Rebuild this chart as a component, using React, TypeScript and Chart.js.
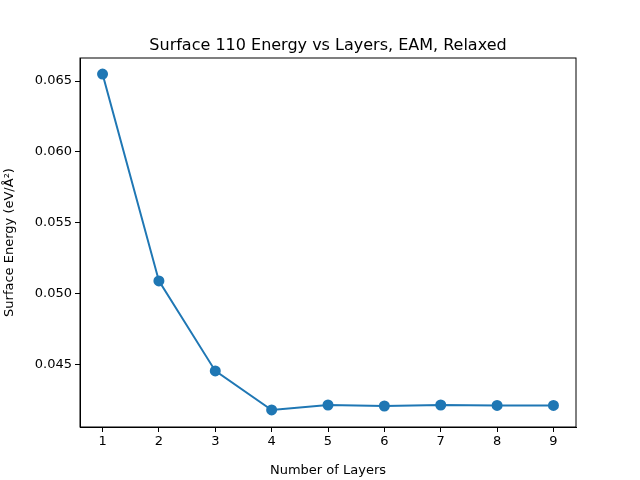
import React, { useEffect, useRef } from "react";
import Chart from "chart.js/auto";

const layers = [1, 2, 3, 4, 5, 6, 7, 8, 9];
const energy = [0.06549, 0.05092, 0.04458, 0.04183, 0.04218, 0.04211, 0.04218, 0.04215, 0.04215];
const xTicks = [1, 2, 3, 4, 5, 6, 7, 8, 9];
const yTicks = [0.045, 0.05, 0.055, 0.06, 0.065];

const font = { family: "DejaVu Sans", size: 13 };

const App = () => {
  const chartRef = useRef<HTMLCanvasElement | null>(null);

  useEffect(() => {
    document.body.style.margin = "0";
    const ctx = chartRef.current!.getContext("2d")!;
    const frame = {
      id: "frame",
      afterDraw(chart: Chart) {
        const { left, right, top, bottom } = chart.chartArea;
        const c = chart.ctx;
        c.save();
        c.strokeStyle = "#000";
        c.lineWidth = 1;
        c.strokeRect(left, top, right - left, bottom - top);
        c.fillStyle = "#000";
        c.font = "16px DejaVu Sans";
        c.textAlign = "center";
        c.textBaseline = "alphabetic";
        c.fillText("Surface 110 Energy vs Layers, EAM, Relaxed", (left + right) / 2, 50);
        c.restore();
      },
    };
    const chart = new Chart(ctx, {
      type: "line",
      data: {
        datasets: [
          {
            data: layers.map((x, i) => ({ x, y: energy[i] })),
            borderColor: "#1f77b4",
            backgroundColor: "#1f77b4",
            borderWidth: 2,
            pointRadius: 4.5,
            pointHoverRadius: 4.5,
          },
        ],
      },
      options: {
        animation: false,
        responsive: false,
        layout: { padding: { top: 58, right: 64 } },
        plugins: { legend: { display: false }, tooltip: { enabled: false } },
        scales: {
          x: {
            type: "linear",
            min: 0.6,
            max: 9.4,
            afterBuildTicks: (s: any) => {
              s.ticks = xTicks.map((v) => ({ value: v }));
            },
            afterFit: (s: any) => {
              s.height = 53;
            },
            grid: { drawOnChartArea: false, tickLength: 5, color: "#000" },
            border: { color: "#000" },
            ticks: { color: "#000", font, padding: 2, maxRotation: 0 },
            title: { display: true, text: "Number of Layers", color: "#000", font, padding: 2 },
          },
          y: {
            min: 0.04063,
            max: 0.06662,
            afterBuildTicks: (s: any) => {
              s.ticks = yTicks.map((v) => ({ value: v }));
            },
            afterFit: (s: any) => {
              s.width = 80;
            },
            grid: { drawOnChartArea: false, tickLength: 5, color: "#000" },
            border: { color: "#000" },
            ticks: { color: "#000", font, padding: 3, callback: (v: any) => Number(v).toFixed(3) },
            title: { display: true, text: "Surface Energy (eV/Å²)", color: "#000", font, padding: 2 },
          },
        },
      },
      plugins: [frame],
    });
    return () => chart.destroy();
  }, []);

  return <canvas ref={chartRef} width={640} height={480} />;
};

export default App;
